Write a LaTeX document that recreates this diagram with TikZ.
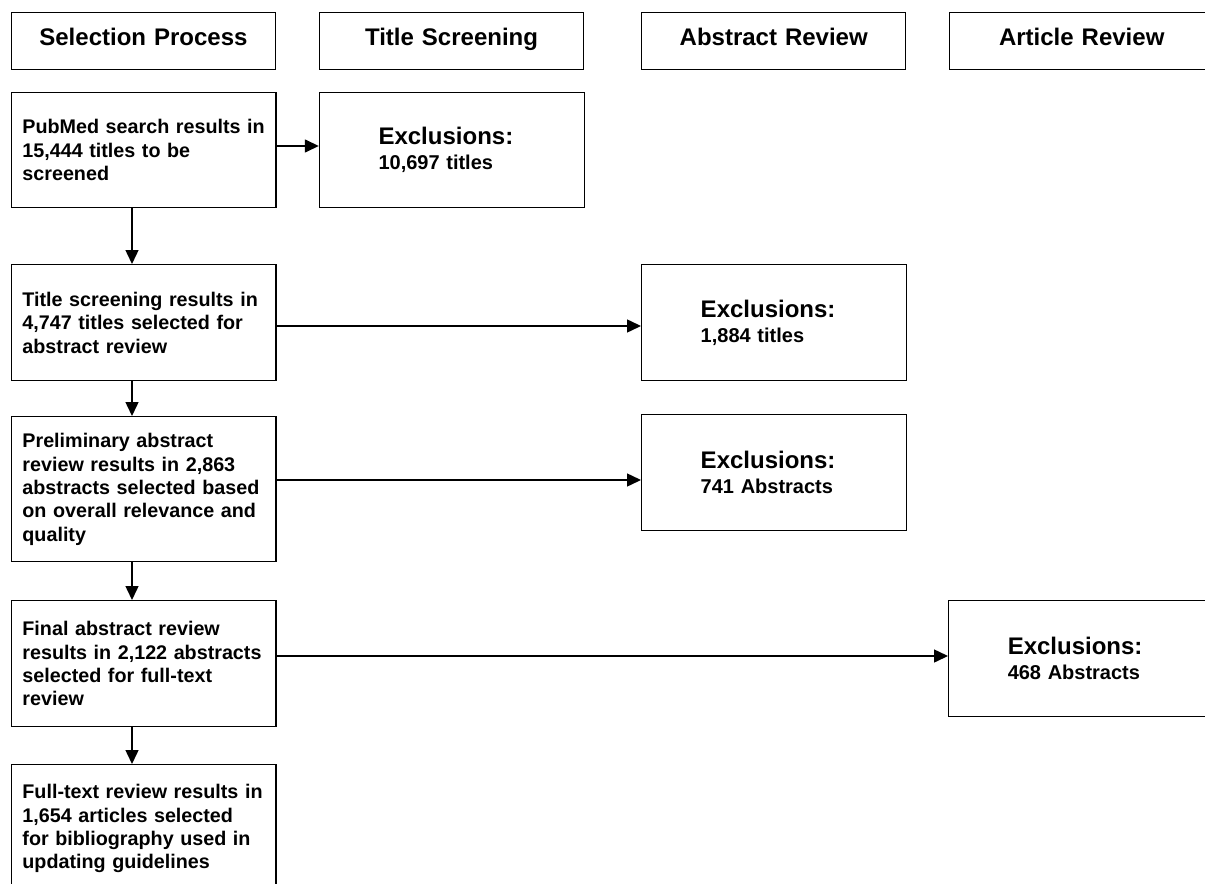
\documentclass[tikz,border=0pt]{standalone}
\usepackage{fontspec}
\setmainfont{Liberation Sans}
\usetikzlibrary{arrows.meta}
\newcommand\oneline[1]{\mbox{#1}}
\begin{document}
\begin{tikzpicture}[x=0.75pt,y=-0.75pt,
  hbox/.style={draw, line width=1.1pt, rectangle, anchor=north west, inner xsep=0pt, inner ysep=0pt,
    text width=198pt, text height=12pt, text depth=5pt, align=center, minimum height=43pt,
    font=\fontsize{18pt}{21pt}\selectfont\bfseries},
  lbox/.style={draw, line width=1.1pt, rectangle, anchor=north west, inner xsep=8.25pt, inner ysep=0pt,
    text width=181.95pt, align=left, font=\fontsize{14.8pt}{17.5pt}\selectfont\bfseries},
  xbox/.style={draw, line width=1.1pt, rectangle, anchor=north west, inner xsep=44.25pt, inner ysep=0pt,
    text width=110.25pt, align=left, minimum height=87pt, font=\fontsize{15pt}{18.75pt}\selectfont\bfseries},
  arr/.style={line width=1.1pt, -{Triangle[length=10.5pt,width=9.75pt]}}
]
\path[use as bounding box, clip] (0,0) rectangle (1205,884);

% header row
\node[hbox] (h1) at (10.7,11.7) {Selection Process};
\node[hbox] (h2) at (318.8,11.7) {Title Screening};
\node[hbox] (h3) at (641,11.7) {Abstract Review};
\node[hbox] (h4) at (949,11.7) {Article Review};

% left column
\node[lbox, minimum height=86.25pt] (pub) at (10.7,92) {\oneline{PubMed search results in}\\\oneline{15,444 titles to be}\\\oneline{screened}};
\node[lbox, minimum height=87pt] (ts) at (10.7,264) {\oneline{Title screening results in}\\\oneline{4,747 titles selected for}\\\oneline{abstract review}};
\node[lbox, minimum height=108.75pt] (pre) at (10.7,416) {\oneline{Preliminary abstract}\\\oneline{review results in 2,863}\\\oneline{abstracts selected based}\\\oneline{on overall relevance and}\\\oneline{quality}};
\node[lbox, minimum height=94.5pt] (fin) at (10.7,600) {\oneline{Final abstract review}\\\oneline{results in 2,122 abstracts}\\\oneline{selected for full-text}\\\oneline{review}};
\node[lbox, minimum height=96pt] (full) at (10.7,764) {\oneline{Full-text review results in}\\\oneline{1,654 articles selected}\\\oneline{for bibliography used in}\\\oneline{updating guidelines}};

% exclusion boxes
\node[xbox, minimum height=86.25pt] (x1) at (318.8,92) {{\fontsize{18pt}{18.75pt}\selectfont Exclusions:}\\10,697 titles};
\node[xbox] (x2) at (641,264) {{\fontsize{18pt}{18.75pt}\selectfont Exclusions:}\\1,884 titles};
\node[xbox] (x3) at (641,414) {{\fontsize{18pt}{18.75pt}\selectfont Exclusions:}\\741 Abstracts};
\node[xbox] (x4) at (948,600) {{\fontsize{18pt}{18.75pt}\selectfont Exclusions:}\\468 Abstracts};

% helper coordinates
\coordinate (ax) at (132,0);
\coordinate (y1) at (0,146);
\coordinate (y2) at (0,326);
\coordinate (y3) at (0,480);
\coordinate (y4) at (0,656);

% vertical arrows
\draw[arr] (pub.south -| ax) -- (ts.north -| ax);
\draw[arr] (ts.south -| ax) -- (pre.north -| ax);
\draw[arr] (pre.south -| ax) -- (fin.north -| ax);
\draw[arr] (fin.south -| ax) -- (full.north -| ax);

% horizontal arrows
\draw[arr] (pub.east |- y1) -- (x1.west |- y1);
\draw[arr] (ts.east |- y2) -- (x2.west |- y2);
\draw[arr] (pre.east |- y3) -- (x3.west |- y3);
\draw[arr] (fin.east |- y4) -- (x4.west |- y4);
\end{tikzpicture}
\end{document}
